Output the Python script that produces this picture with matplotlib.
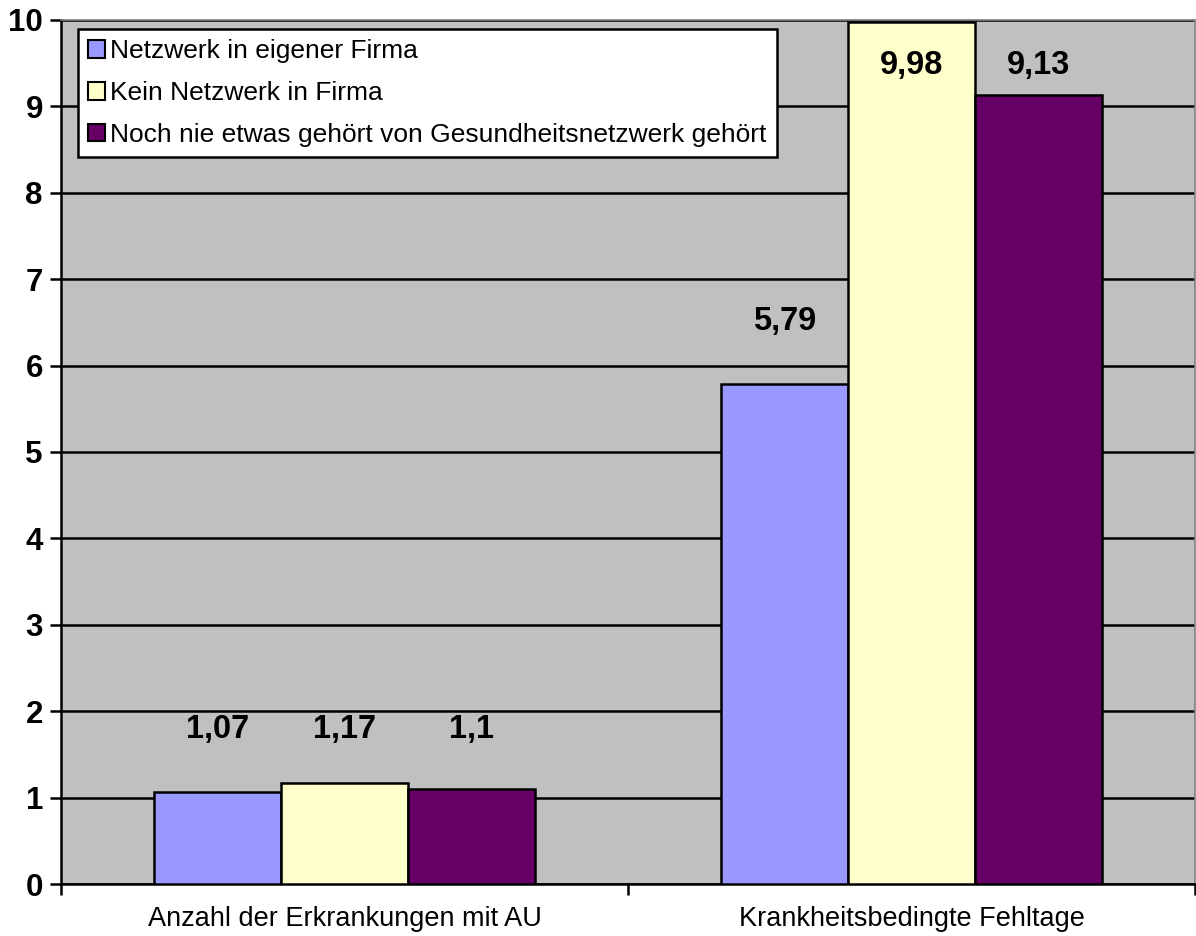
import matplotlib
matplotlib.use("Agg")
import matplotlib.pyplot as plt
from matplotlib.patches import Patch
import numpy as np

categories = ["Anzahl der Erkrankungen mit AU", "Krankheitsbedingte Fehltage"]
series_names = ["Netzwerk in eigener Firma", "Kein Netzwerk in Firma",
                "Noch nie etwas gehört von Gesundheitsnetzwerk gehört"]
netzwerk = [1.07, 5.79]
kein_netzwerk = [1.17, 9.98]
nie_gehoert = [1.10, 9.13]
value_labels = [["1,07", "5,79"], ["1,17", "9,98"], ["1,1", "9,13"]]
colors = ["#9999FF", "#FFFFCC", "#660066"]

plt.rcParams['font.family'] = ['Liberation Sans', 'DejaVu Sans']

fig = plt.figure(figsize=(11.96, 9.36), dpi=100)
W, H = 1196, 936
ax = fig.add_axes([61 / W, 1 - 884 / H, (1195 - 61) / W, (884 - 20) / H])
ax.set_facecolor("#C0C0C0")

series = [netzwerk, kein_netzwerk, nie_gehoert]
group_min = np.min(np.array(series), axis=0)
bw = 0.2235
centers = np.array([0.5, 1.5])
for i, vals in enumerate(series):
    xs = centers + (i - 1) * bw
    ax.bar(xs, vals, width=bw, color=colors[i], edgecolor="black", linewidth=1.8, zorder=3)
    for j, (x, v, lab) in enumerate(zip(xs, vals, value_labels[i])):
        y = min(max(group_min[j] + 0.72, v + 0.55), 9.47)
        ax.text(x, y, lab, ha="center", va="center", fontsize=23.5, fontweight="bold", zorder=4)

ax.set_xlim(0, 2)
ax.set_ylim(0, 10)
ax.set_yticks(range(0, 11))
ax.yaxis.grid(True, color="black", linewidth=1.8, zorder=1)
ax.set_axisbelow(True)
ax.tick_params(axis="y", labelsize=22.5, length=8, width=1.8, pad=5)
for t in ax.get_yticklabels():
    t.set_fontweight("bold")

ax.set_xticks([0, 1, 2])
ax.set_xticklabels([])
ax.set_xticks(centers, minor=True)
ax.set_xticklabels(categories, minor=True, fontsize=19.5)
ax.tick_params(axis="x", which="major", length=8, width=1.8)
ax.tick_params(axis="x", which="minor", length=0, pad=16)

ax.spines["left"].set_linewidth(1.8)
ax.spines["bottom"].set_linewidth(1.8)
ax.spines["top"].set_color("#808080")
ax.spines["right"].set_color("#808080")
ax.spines["top"].set_linewidth(1.2)
ax.spines["right"].set_linewidth(1.2)

handles = [Patch(facecolor=c, edgecolor="black", linewidth=1.5) for c in colors]
leg = fig.legend(handles, series_names, loc="upper left",
                 bbox_to_anchor=(78 / W, 1 - 29 / H), bbox_transform=fig.transFigure,
                 borderaxespad=0, fontsize=19, handlelength=0.65, handleheight=0.65,
                 handletextpad=0.2, labelspacing=0.68, borderpad=0.38,
                 fancybox=False, framealpha=1, edgecolor="black")
leg.get_frame().set_linewidth(1.8)

fig.savefig("out.png", dpi=100)
